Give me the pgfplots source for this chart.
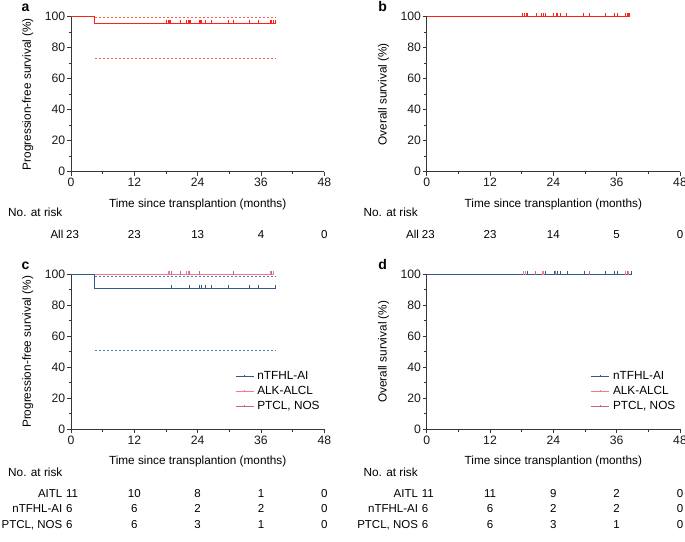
\documentclass[border=0pt]{standalone}
\usepackage{fontspec}
\setmainfont{Liberation Sans}
\usepackage{pgfplots}
\pgfplotsset{compat=1.18}

\definecolor{kmred}{RGB}{255,32,24}
\definecolor{kmredci}{RGB}{255,95,85}
\definecolor{kmblue}{RGB}{46,90,140}
\definecolor{kmblueci}{RGB}{90,125,180}
\definecolor{kmpink}{RGB}{246,120,140}
\definecolor{kmmauve}{RGB}{196,100,150}
\definecolor{axgray}{RGB}{55,55,55}

\newcommand{\tabfont}{\fontsize{11.5}{13}\selectfont}
\newcommand{\labfont}{\fontsize{11.8}{13}\selectfont}
\newcommand{\tickfont}{\fontsize{12.2}{14}\selectfont}

\tikzset{rk/.style={inner sep=0pt, font=\tabfont, text height=8.2pt, text depth=0pt}}

\pgfplotsset{
  kmaxis/.style={
    scale only axis, width=253.3pt, height=155pt,
    xmin=0, xmax=48, ymin=0, ymax=100,
    xtick={0,12,...,48}, ytick={0,20,...,100},
    minor x tick num=1, minor y tick num=1,
    axis lines=left, axis line style={-, axgray, line width=0.9pt},
    tick align=outside, major tick length=4pt, minor tick length=2.5pt,
    tick style={axgray, line width=0.8pt},
    /pgf/number format/assume math mode=true,
    ticklabel style={font=\tickfont, text=black!90},
    xticklabel style={inner sep=2pt},
    yticklabel style={inner sep=1.6pt},
    label style={font=\labfont},
    xlabel={Time since transplantion (months)},
    xlabel style={at={(axis description cs:0.5,-0.209)}, anchor=center},
    ylabel style={at={(axis description cs:-0.17,0.5)}, anchor=center},
    clip=false,
  },
  censor/.style={only marks, mark=|, mark size=2pt,
    mark options={yshift=1.5pt, line width=0.8pt}},
  ci/.style={line width=0.7pt, dash pattern=on 2.5pt off 1.5pt},
  grouplegend/.style={
    legend style={draw=none, fill=none, at={(axis cs:31.1,38.8)},
      anchor=north west, inner sep=0pt, outer sep=0pt, row sep=0pt,
      font=\labfont,
      nodes={inner xsep=3pt, inner ysep=2pt, text height=8.5pt, text depth=2.5pt}},
    legend cell align=left,
    legend image code/.code={
      \draw[##1, mark=none] (0pt,0pt) -- (18pt,0pt);
      \draw[##1, mark=none, line width=0.7pt] (9pt,0pt) -- (9pt,2pt);
    },
  },
}

\begin{document}
\begin{tikzpicture}
\path[use as bounding box] (0,0) rectangle (685pt,541pt);

% ---------- a: progression-free survival, all patients ----------
\begin{axis}[kmaxis, at={(71pt,369.3pt)}, anchor=south west,
  ylabel={Progression-free survival (\%)}]
\addplot[kmredci, ci] coordinates {(4.5,99.35) (38.7,99.35)};
\addplot[kmredci, ci] coordinates {(4.5,72.9) (38.7,72.9)};
\addplot[kmred, line width=1.4pt, const plot] coordinates {(0,100) (4.5,95.65) (38.7,95.65)};
\addplot[kmred, censor] coordinates {
  (18.1,95.65) (18.4,95.65) (18.7,95.65) (18.9,95.65) (20.65,95.65) (21.9,95.65)
  (22.2,95.65) (22.5,95.65) (22.6,95.65) (24.25,95.65) (24.6,95.65) (24.7,95.65)
  (25.4,95.65) (26.7,95.65) (29.8,95.65) (30.75,95.65) (33.9,95.65) (35.5,95.65)
  (37.7,95.65) (38.0,95.65) (38.3,95.65) (38.7,95.65)};
\node[rk, anchor=west] at (axis cs:-11.94,-26.2) {\labfont No. at risk};
\node[rk, anchor=east] at (axis cs:-1.42,-40.2) {All};
\node[rk, anchor=west] at (axis cs:-0.95,-40.2) {23};
\node[rk] at (axis cs:12,-40.2) {23};
\node[rk] at (axis cs:24,-40.2) {13};
\node[rk] at (axis cs:36,-40.2) {4};
\node[rk] at (axis cs:48,-40.2) {0};
\end{axis}
\node[font=\bfseries\fontsize{14}{14}\selectfont, anchor=base, inner sep=0pt] at (25.5pt,529.3pt) {a};

% ---------- b: overall survival, all patients ----------
\begin{axis}[kmaxis, at={(426.7pt,369.3pt)}, anchor=south west,
  ylabel={Overall survival (\%)}]
\addplot[kmred, line width=1.4pt] coordinates {(0,100) (38.5,100)};
\addplot[kmred, censor] coordinates {
  (18.2,100) (18.5,100) (18.8,100) (19.1,100) (20.7,100) (21.8,100) (22.1,100)
  (22.4,100) (22.5,100) (24.1,100) (24.5,100) (24.7,100) (25.4,100) (26.5,100)
  (29.7,100) (30.8,100) (33.9,100) (35.5,100) (36.2,100) (37.7,100) (38.0,100)
  (38.3,100) (38.5,100)};
\node[rk, anchor=west] at (axis cs:-12.0,-26.2) {\labfont No. at risk};
\node[rk, anchor=east] at (axis cs:-1.42,-40.2) {All};
\node[rk, anchor=west] at (axis cs:-0.95,-40.2) {23};
\node[rk] at (axis cs:12,-40.2) {23};
\node[rk] at (axis cs:24,-40.2) {14};
\node[rk] at (axis cs:36,-40.2) {5};
\node[rk] at (axis cs:48,-40.2) {0};
\end{axis}
\node[font=\bfseries\fontsize{14}{14}\selectfont, anchor=base, inner sep=0pt] at (382.7pt,529.3pt) {b};

% ---------- c: progression-free survival by subtype ----------
\begin{axis}[kmaxis, grouplegend, at={(71pt,111.7pt)}, anchor=south west,
  ylabel={Progression-free survival (\%)}]
\addplot[kmblueci, ci, forget plot] coordinates {(4.5,98.8) (38.7,98.8)};
\addplot[kmblueci, ci, forget plot] coordinates {(4.5,50.7) (38.7,50.7)};
\addplot[kmmauve, line width=1.2pt, forget plot] coordinates {(0,100) (38.0,100)};
\addplot[kmmauve, censor, forget plot] coordinates {
  (19.1,100) (20.65,100) (22.5,100) (24.4,100) (30.75,100) (38.0,100)};
\addplot[kmpink, line width=1.2pt, forget plot] coordinates {(0,100) (38.3,100)};
\addplot[kmpink, censor, forget plot] coordinates {
  (18.4,100) (18.7,100) (21.9,100) (22.2,100) (37.7,100) (38.3,100)};
\addplot[kmblue, line width=1.2pt, const plot, forget plot] coordinates {(0,100) (4.5,90.91) (38.7,90.91)};
\addplot[kmblue, censor, forget plot] coordinates {
  (19.07,90.91) (22.4,90.91) (24.25,90.91) (24.7,90.91) (25.4,90.91)
  (26.7,90.91) (29.8,90.91) (33.9,90.91) (35.5,90.91) (38.7,90.91)};
\addlegendimage{kmblue, line width=1.2pt}\addlegendentry{nTFHL-AI}
\addlegendimage{kmpink, line width=1.2pt}\addlegendentry{ALK-ALCL}
\addlegendimage{kmmauve, line width=1.2pt}\addlegendentry{PTCL, NOS}
\node[rk, anchor=west] at (axis cs:-11.94,-28.0) {\labfont No. at risk};
\node[rk, anchor=east] at (axis cs:-1.61,-41.3) {AITL};
\node[rk, anchor=west] at (axis cs:-0.95,-41.3) {11};
\node[rk] at (axis cs:12,-41.3) {10};
\node[rk] at (axis cs:24,-41.3) {8};
\node[rk] at (axis cs:36,-41.3) {1};
\node[rk] at (axis cs:48,-41.3) {0};
\node[rk, anchor=east] at (axis cs:-1.61,-51.2) {nTFHL-AI};
\node[rk, anchor=west] at (axis cs:-0.95,-51.2) {6};
\node[rk] at (axis cs:12,-51.2) {6};
\node[rk] at (axis cs:24,-51.2) {2};
\node[rk] at (axis cs:36,-51.2) {2};
\node[rk] at (axis cs:48,-51.2) {0};
\node[rk, anchor=east] at (axis cs:-1.61,-61.1) {PTCL, NOS};
\node[rk, anchor=west] at (axis cs:-0.95,-61.1) {6};
\node[rk] at (axis cs:12,-61.1) {6};
\node[rk] at (axis cs:24,-61.1) {3};
\node[rk] at (axis cs:36,-61.1) {1};
\node[rk] at (axis cs:48,-61.1) {0};
\end{axis}
\node[font=\bfseries\fontsize{14}{14}\selectfont, anchor=base, inner sep=0pt] at (25.5pt,271pt) {c};

% ---------- d: overall survival by subtype ----------
\begin{axis}[kmaxis, grouplegend, at={(426.7pt,111.7pt)}, anchor=south west,
  ylabel={Overall survival (\%)}]
\addplot[kmpink, line width=1.2pt, forget plot] coordinates {(0,100) (38.3,100)};
\addplot[kmpink, censor, forget plot] coordinates {
  (18.4,100) (18.7,100) (21.9,100) (22.2,100) (37.7,100) (38.3,100)};
\addplot[kmmauve, line width=1.2pt, forget plot] coordinates {(0,100) (38.0,100)};
\addplot[kmmauve, censor, forget plot] coordinates {
  (19.1,100) (20.65,100) (22.5,100) (24.4,100) (30.75,100) (38.0,100)};
\addplot[kmblue, line width=1.2pt, forget plot] coordinates {(0,100) (38.7,100)};
\addplot[kmblue, censor, forget plot] coordinates {
  (19.07,100) (22.4,100) (24.25,100) (24.7,100) (25.4,100) (26.7,100)
  (29.8,100) (33.9,100) (35.5,100) (36.2,100) (38.7,100)};
\addlegendimage{kmblue, line width=1.2pt}\addlegendentry{nTFHL-AI}
\addlegendimage{kmpink, line width=1.2pt}\addlegendentry{ALK-ALCL}
\addlegendimage{kmmauve, line width=1.2pt}\addlegendentry{PTCL, NOS}
\node[rk, anchor=west] at (axis cs:-12.0,-28.0) {\labfont No. at risk};
\node[rk, anchor=east] at (axis cs:-1.61,-41.3) {AITL};
\node[rk, anchor=west] at (axis cs:-0.95,-41.3) {11};
\node[rk] at (axis cs:12,-41.3) {11};
\node[rk] at (axis cs:24,-41.3) {9};
\node[rk] at (axis cs:36,-41.3) {2};
\node[rk] at (axis cs:48,-41.3) {0};
\node[rk, anchor=east] at (axis cs:-1.61,-51.2) {nTFHL-AI};
\node[rk, anchor=west] at (axis cs:-0.95,-51.2) {6};
\node[rk] at (axis cs:12,-51.2) {6};
\node[rk] at (axis cs:24,-51.2) {2};
\node[rk] at (axis cs:36,-51.2) {2};
\node[rk] at (axis cs:48,-51.2) {0};
\node[rk, anchor=east] at (axis cs:-1.61,-61.1) {PTCL, NOS};
\node[rk, anchor=west] at (axis cs:-0.95,-61.1) {6};
\node[rk] at (axis cs:12,-61.1) {6};
\node[rk] at (axis cs:24,-61.1) {3};
\node[rk] at (axis cs:36,-61.1) {1};
\node[rk] at (axis cs:48,-61.1) {0};
\end{axis}
\node[font=\bfseries\fontsize{14}{14}\selectfont, anchor=base, inner sep=0pt] at (382.7pt,271pt) {d};
\end{tikzpicture}
\end{document}
